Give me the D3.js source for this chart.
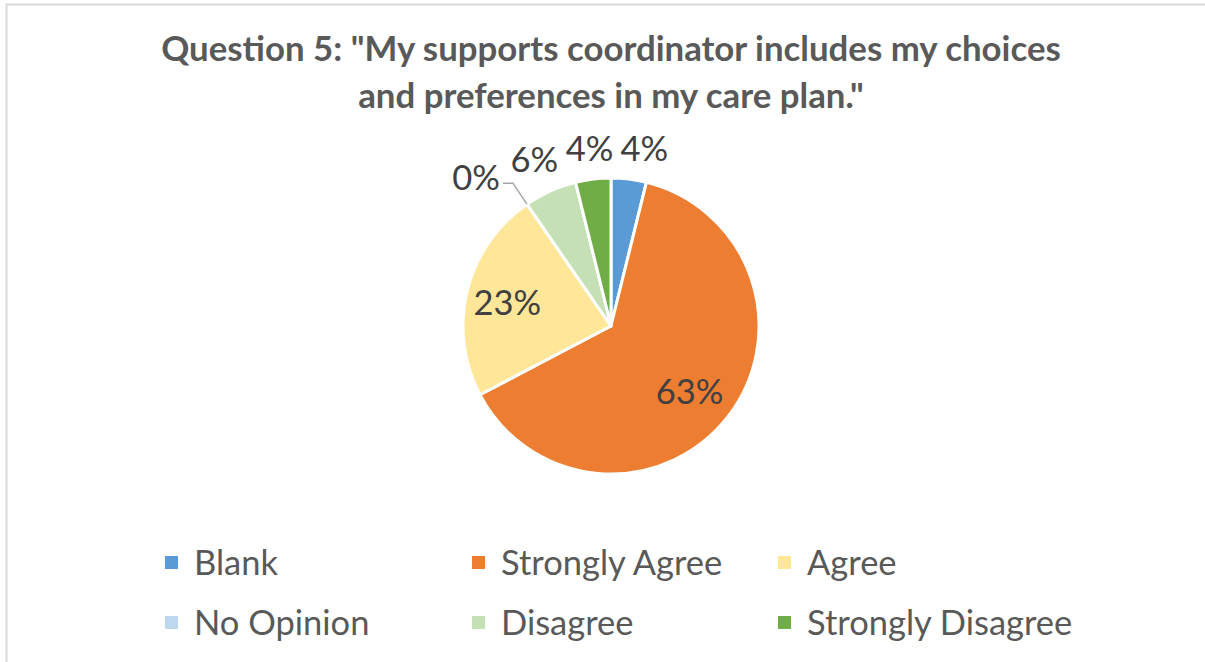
<!DOCTYPE html>
<html><head><meta charset="utf-8">
<script src="https://cdn.jsdelivr.net/npm/d3@7"></script>
<style>
html,body{margin:0;padding:0;background:#fff;}
svg text{font-family:Lato,"Open Sans",sans-serif;}
</style></head>
<body>
<svg id="chart" width="1205" height="662"></svg>
<script>
// ---- data ----
const categories = ["Blank","Strongly Agree","Agree","No Opinion","Disagree","Strongly Disagree"];
const counts = [2, 33, 12, 0, 3, 2];
const pctLabels = ["4%","63%","23%","0%","6%","4%"];
const colors = ["#5B9BD5","#ED7D31","#FFE699","#BDD7EE","#C5E0B4","#70AD47"];
const titleLines = ['Question 5: "My supports coordinator includes my choices','and preferences in my care plan."'];

// ---- layout ----
const W = 1205, H = 662;
const cx = 611, cy = 326, R = 148;
const FS = 34.5;
const svg = d3.select("#chart");

svg.append("path")
  .attr("d", `M6.5,${H} L6.5,4.5 L${W},4.5`)
  .attr("fill","none").attr("stroke","#d9d9d9").attr("stroke-width",2);

const title = svg.append("text").attr("text-anchor","middle")
  .attr("fill","#595959").attr("font-weight","bold").attr("font-size",34.8);
titleLines.forEach((t,i)=>{
  title.append("tspan").attr("x", 611).attr("y", 61 + i*47).text(t);
});

const pie = d3.pie().value(d=>d).sort(null);
const arcs = pie(counts);
const arc = d3.arc().innerRadius(0).outerRadius(R);
const g = svg.append("g").attr("transform",`translate(${cx},${cy})`);

g.selectAll("path.slice").data(arcs).join("path")
  .attr("class","slice")
  .attr("d", arc)
  .attr("fill",(d,i)=>colors[i])
  .attr("stroke","#fff").attr("stroke-width",3).attr("stroke-linejoin","round");

// labels
const inArc = d3.arc().innerRadius(R*0.7).outerRadius(R*0.7);
const outR = R + 30;
const nudge = [12, 0, 0, 0, -2, 0];
arcs.forEach((d,i)=>{
  const mid = (d.startAngle + d.endAngle)/2;
  const share = (d.endAngle - d.startAngle)/(2*Math.PI);
  if (share > 0.15) {
    const [x,y] = inArc.centroid(d);
    g.append("text").attr("x", x - 3).attr("y", y + 2).attr("dy","0.35em")
      .attr("text-anchor","middle").attr("fill","#404040").attr("font-size",FS)
      .text(pctLabels[i]);
  } else if (share === 0) {
    const px = R*Math.sin(mid), py = -R*Math.cos(mid);
    const ex = px - 14, ey = py - 21;
    g.append("polyline")
      .attr("points", `${px},${py} ${ex},${ey} ${ex-10},${ey}`)
      .attr("fill","none").attr("stroke","#a6a6a6").attr("stroke-width",1.5);
    g.append("text").attr("x", ex-13).attr("y", ey - 5).attr("dy","0.35em")
      .attr("text-anchor","end").attr("fill","#404040").attr("font-size",FS)
      .text(pctLabels[i]);
  } else {
    const rr = outR + (Math.abs(Math.sin(mid))>0.3 ? 4 : 0);
    const x = rr*Math.sin(mid) + nudge[i], y = -rr*Math.cos(mid);
    g.append("text").attr("x", x).attr("y", y).attr("dy","0.35em")
      .attr("text-anchor","middle").attr("fill","#404040").attr("font-size",FS)
      .text(pctLabels[i]);
  }
});

// legend
const colX = [165, 472, 778];
const rowY = [563, 623];
categories.forEach((c,i)=>{
  const x = colX[i%3], y = rowY[Math.floor(i/3)];
  svg.append("rect").attr("x", x).attr("y", y-7).attr("width",13).attr("height",13).attr("fill",colors[i]);
  svg.append("text").attr("x", x+29).attr("y", y).attr("dy","0.35em")
    .attr("fill","#595959").attr("font-size",FS).text(c);
});
</script>
</body></html>
